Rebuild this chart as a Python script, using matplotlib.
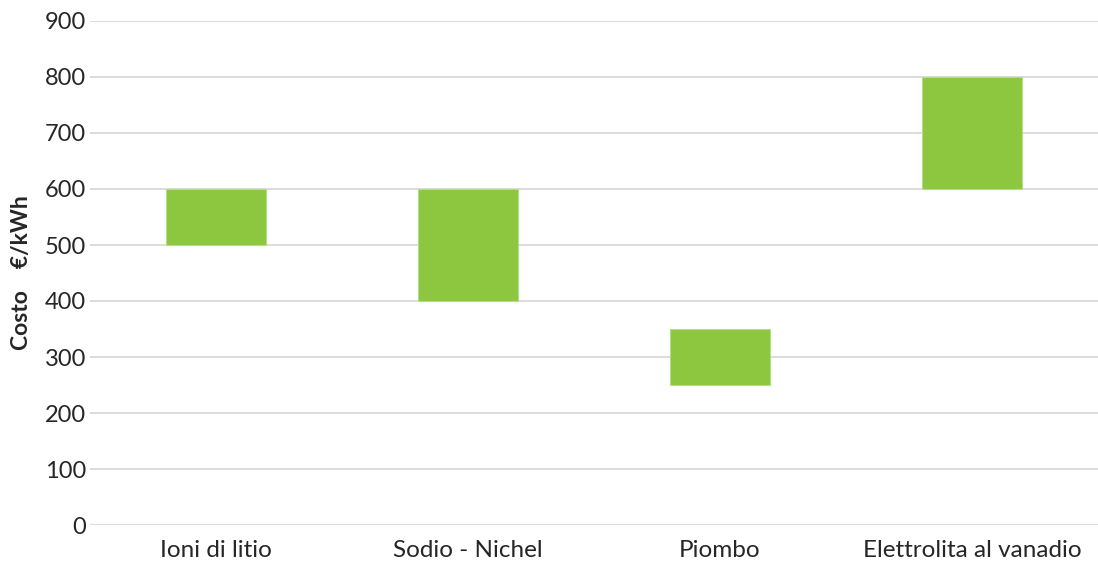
import matplotlib
matplotlib.use("Agg")
import matplotlib.pyplot as plt

categories = ["Ioni di litio", "Sodio - Nichel", "Piombo", "Elettrolita al vanadio"]
cost_low = [500, 400, 250, 600]
cost_high = [600, 600, 350, 800]
yticks = [0, 100, 200, 300, 400, 500, 600, 700, 800, 900]

plt.rcParams["font.family"] = ["Lato", "DejaVu Sans"]

fig = plt.figure(figsize=(10.98, 5.61), dpi=100)
ax = fig.add_axes([90 / 1098, 36 / 561, 1008 / 1098, 504 / 561])

x = range(len(categories))
heights = [h - l for l, h in zip(cost_low, cost_high)]
ax.bar(x, heights, bottom=cost_low, width=0.4, color="#8dc63f",
       edgecolor="#b5dc8a", linewidth=0.8, zorder=3)

ax.set_xlim(-0.5, len(categories) - 0.5)
ax.set_ylim(0, 900)
ax.set_yticks(yticks)
ax.set_xticks(list(x))
ax.set_xticklabels(categories)
ax.grid(axis="y", color="#d9d9d9", linewidth=1.3, zorder=0)
ax.set_axisbelow(True)
for s in ax.spines.values():
    s.set_visible(False)
ax.tick_params(axis="both", length=0, labelsize=17, colors="#262626")
ax.tick_params(axis="x", labelsize=17.5, pad=11)
ax.tick_params(axis="y", pad=3)
ax.set_ylabel("Costo    €/kWh", fontsize=16.5, fontweight="bold", color="#262626")
ax.yaxis.set_label_coords(-58 / 1008, 0.5)

fig.savefig("out.png", dpi=100)
